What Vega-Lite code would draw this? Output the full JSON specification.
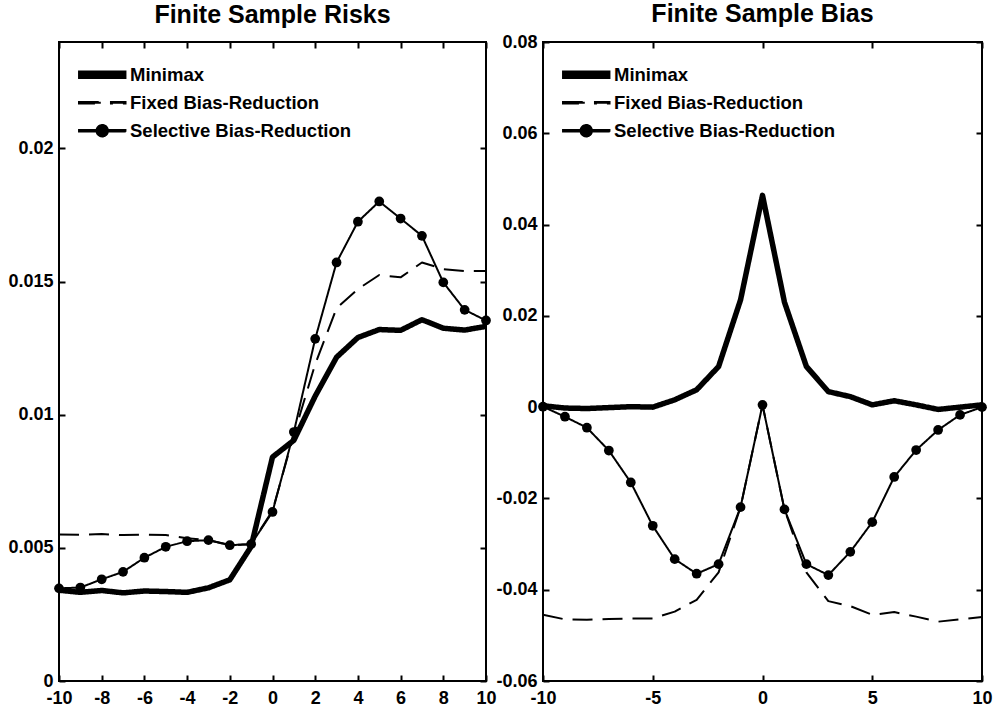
{
  "$schema": "https://vega.github.io/schema/vega-lite/v6.json",
  "padding": {"left": 6, "top": 1, "right": 5, "bottom": 3},
  "background": "white",
  "bounds": "flush",
  "spacing": 57,
  "config": {
    "view": {"stroke": "black", "strokeWidth": 2},
    "font": "Liberation Sans",
    "axis": {
      "domain": false, "grid": false, "title": null,
      "tickSize": -6, "tickWidth": 2, "tickColor": "black",
      "labelFont": "Liberation Sans",
      "labelFontSize": 18, "labelFontWeight": "bold", "labelColor": "black",
      "labelOverlap": false, "labelFlush": false
    },
    "legend": {
      "orient": "none", "legendX": 34, "legendY": 23.5, "title": null,
      "labelFont": "Liberation Sans", "labelFontSize": 18.5, "labelFontWeight": "bold", "labelColor": "black", "labelLimit": 400,
      "symbolSize": 196, "rowPadding": 9, "labelOffset": 18.5,
      "symbolFillColor": "black", "symbolOpacity": 1
    },
    "title": {"font": "Liberation Sans", "fontSize": 25, "fontWeight": "bold", "color": "black", "frame": "group", "baseline": "alphabetic", "anchor": "middle"}
  },
  "resolve": {"scale": {"strokeDash": "independent", "shape": "independent"}, "legend": {"strokeDash": "independent", "shape": "independent"}},
  "datasets": {
    "risk": [
      {"x": -10, "v": 0.00341, "series": "Minimax"},
      {"x": -9, "v": 0.00333, "series": "Minimax"},
      {"x": -8, "v": 0.00340, "series": "Minimax"},
      {"x": -7, "v": 0.00331, "series": "Minimax"},
      {"x": -6, "v": 0.00338, "series": "Minimax"},
      {"x": -5, "v": 0.00336, "series": "Minimax"},
      {"x": -4, "v": 0.00333, "series": "Minimax"},
      {"x": -3, "v": 0.00350, "series": "Minimax"},
      {"x": -2, "v": 0.00380, "series": "Minimax"},
      {"x": -1, "v": 0.00505, "series": "Minimax"},
      {"x": 0, "v": 0.00841, "series": "Minimax"},
      {"x": 1, "v": 0.00904, "series": "Minimax"},
      {"x": 2, "v": 0.01070, "series": "Minimax"},
      {"x": 3, "v": 0.01216, "series": "Minimax"},
      {"x": 4, "v": 0.01290, "series": "Minimax"},
      {"x": 5, "v": 0.01320, "series": "Minimax"},
      {"x": 6, "v": 0.01317, "series": "Minimax"},
      {"x": 7, "v": 0.01357, "series": "Minimax"},
      {"x": 8, "v": 0.01325, "series": "Minimax"},
      {"x": 9, "v": 0.01318, "series": "Minimax"},
      {"x": 10, "v": 0.01332, "series": "Minimax"},
      {"x": -10, "v": 0.00550, "series": "Fixed Bias-Reduction"},
      {"x": -9, "v": 0.00549, "series": "Fixed Bias-Reduction"},
      {"x": -8, "v": 0.00552, "series": "Fixed Bias-Reduction"},
      {"x": -7, "v": 0.00548, "series": "Fixed Bias-Reduction"},
      {"x": -6, "v": 0.00550, "series": "Fixed Bias-Reduction"},
      {"x": -5, "v": 0.00548, "series": "Fixed Bias-Reduction"},
      {"x": -4, "v": 0.00536, "series": "Fixed Bias-Reduction"},
      {"x": -3, "v": 0.00529, "series": "Fixed Bias-Reduction"},
      {"x": -2, "v": 0.00511, "series": "Fixed Bias-Reduction"},
      {"x": -1, "v": 0.00514, "series": "Fixed Bias-Reduction"},
      {"x": 0, "v": 0.00640, "series": "Fixed Bias-Reduction"},
      {"x": 1, "v": 0.00925, "series": "Fixed Bias-Reduction"},
      {"x": 2, "v": 0.01190, "series": "Fixed Bias-Reduction"},
      {"x": 3, "v": 0.01400, "series": "Fixed Bias-Reduction"},
      {"x": 4, "v": 0.01472, "series": "Fixed Bias-Reduction"},
      {"x": 5, "v": 0.01525, "series": "Fixed Bias-Reduction"},
      {"x": 6, "v": 0.01516, "series": "Fixed Bias-Reduction"},
      {"x": 7, "v": 0.01572, "series": "Fixed Bias-Reduction"},
      {"x": 8, "v": 0.01547, "series": "Fixed Bias-Reduction"},
      {"x": 9, "v": 0.01540, "series": "Fixed Bias-Reduction"},
      {"x": 10, "v": 0.01540, "series": "Fixed Bias-Reduction"},
      {"x": -10, "v": 0.00348, "series": "Selective Bias-Reduction"},
      {"x": -9, "v": 0.00351, "series": "Selective Bias-Reduction"},
      {"x": -8, "v": 0.00382, "series": "Selective Bias-Reduction"},
      {"x": -7, "v": 0.00410, "series": "Selective Bias-Reduction"},
      {"x": -6, "v": 0.00463, "series": "Selective Bias-Reduction"},
      {"x": -5, "v": 0.00504, "series": "Selective Bias-Reduction"},
      {"x": -4, "v": 0.00525, "series": "Selective Bias-Reduction"},
      {"x": -3, "v": 0.00529, "series": "Selective Bias-Reduction"},
      {"x": -2, "v": 0.00510, "series": "Selective Bias-Reduction"},
      {"x": -1, "v": 0.00514, "series": "Selective Bias-Reduction"},
      {"x": 0, "v": 0.00635, "series": "Selective Bias-Reduction"},
      {"x": 1, "v": 0.00935, "series": "Selective Bias-Reduction"},
      {"x": 2, "v": 0.01285, "series": "Selective Bias-Reduction"},
      {"x": 3, "v": 0.01572, "series": "Selective Bias-Reduction"},
      {"x": 4, "v": 0.01725, "series": "Selective Bias-Reduction"},
      {"x": 5, "v": 0.01801, "series": "Selective Bias-Reduction"},
      {"x": 6, "v": 0.01737, "series": "Selective Bias-Reduction"},
      {"x": 7, "v": 0.01672, "series": "Selective Bias-Reduction"},
      {"x": 8, "v": 0.01497, "series": "Selective Bias-Reduction"},
      {"x": 9, "v": 0.01394, "series": "Selective Bias-Reduction"},
      {"x": 10, "v": 0.01354, "series": "Selective Bias-Reduction"}
    ],
    "bias": [
      {"x": -10, "v": 0.0003, "series": "Minimax"},
      {"x": -9, "v": -0.0002, "series": "Minimax"},
      {"x": -8, "v": -0.0003, "series": "Minimax"},
      {"x": -7, "v": -0.0001, "series": "Minimax"},
      {"x": -6, "v": 0.0001, "series": "Minimax"},
      {"x": -5, "v": 0.0, "series": "Minimax"},
      {"x": -4, "v": 0.0016, "series": "Minimax"},
      {"x": -3, "v": 0.0038, "series": "Minimax"},
      {"x": -2, "v": 0.0089, "series": "Minimax"},
      {"x": -1, "v": 0.0235, "series": "Minimax"},
      {"x": 0, "v": 0.0464, "series": "Minimax"},
      {"x": 1, "v": 0.0230, "series": "Minimax"},
      {"x": 2, "v": 0.0089, "series": "Minimax"},
      {"x": 3, "v": 0.0034, "series": "Minimax"},
      {"x": 4, "v": 0.0023, "series": "Minimax"},
      {"x": 5, "v": 0.0005, "series": "Minimax"},
      {"x": 6, "v": 0.0014, "series": "Minimax"},
      {"x": 7, "v": 0.0005, "series": "Minimax"},
      {"x": 8, "v": -0.0005, "series": "Minimax"},
      {"x": 9, "v": 0.0, "series": "Minimax"},
      {"x": 10, "v": 0.0005, "series": "Minimax"},
      {"x": -10, "v": -0.0455, "series": "Fixed Bias-Reduction"},
      {"x": -9, "v": -0.0465, "series": "Fixed Bias-Reduction"},
      {"x": -8, "v": -0.0466, "series": "Fixed Bias-Reduction"},
      {"x": -7, "v": -0.0464, "series": "Fixed Bias-Reduction"},
      {"x": -6, "v": -0.0463, "series": "Fixed Bias-Reduction"},
      {"x": -5, "v": -0.0463, "series": "Fixed Bias-Reduction"},
      {"x": -4, "v": -0.0448, "series": "Fixed Bias-Reduction"},
      {"x": -3, "v": -0.0422, "series": "Fixed Bias-Reduction"},
      {"x": -2, "v": -0.0362, "series": "Fixed Bias-Reduction"},
      {"x": -1, "v": -0.0219, "series": "Fixed Bias-Reduction"},
      {"x": 0, "v": 0.0005, "series": "Fixed Bias-Reduction"},
      {"x": 1, "v": -0.0224, "series": "Fixed Bias-Reduction"},
      {"x": 2, "v": -0.0362, "series": "Fixed Bias-Reduction"},
      {"x": 3, "v": -0.0425, "series": "Fixed Bias-Reduction"},
      {"x": 4, "v": -0.0436, "series": "Fixed Bias-Reduction"},
      {"x": 5, "v": -0.0455, "series": "Fixed Bias-Reduction"},
      {"x": 6, "v": -0.0449, "series": "Fixed Bias-Reduction"},
      {"x": 7, "v": -0.0459, "series": "Fixed Bias-Reduction"},
      {"x": 8, "v": -0.0470, "series": "Fixed Bias-Reduction"},
      {"x": 9, "v": -0.0465, "series": "Fixed Bias-Reduction"},
      {"x": 10, "v": -0.0460, "series": "Fixed Bias-Reduction"},
      {"x": -10, "v": 0.0001, "series": "Selective Bias-Reduction"},
      {"x": -9, "v": -0.0021, "series": "Selective Bias-Reduction"},
      {"x": -8, "v": -0.0045, "series": "Selective Bias-Reduction"},
      {"x": -7, "v": -0.0095, "series": "Selective Bias-Reduction"},
      {"x": -6, "v": -0.0165, "series": "Selective Bias-Reduction"},
      {"x": -5, "v": -0.0260, "series": "Selective Bias-Reduction"},
      {"x": -4, "v": -0.0333, "series": "Selective Bias-Reduction"},
      {"x": -3, "v": -0.0365, "series": "Selective Bias-Reduction"},
      {"x": -2, "v": -0.0344, "series": "Selective Bias-Reduction"},
      {"x": -1, "v": -0.0219, "series": "Selective Bias-Reduction"},
      {"x": 0, "v": 0.0005, "series": "Selective Bias-Reduction"},
      {"x": 1, "v": -0.0224, "series": "Selective Bias-Reduction"},
      {"x": 2, "v": -0.0344, "series": "Selective Bias-Reduction"},
      {"x": 3, "v": -0.0368, "series": "Selective Bias-Reduction"},
      {"x": 4, "v": -0.0317, "series": "Selective Bias-Reduction"},
      {"x": 5, "v": -0.0252, "series": "Selective Bias-Reduction"},
      {"x": 6, "v": -0.0153, "series": "Selective Bias-Reduction"},
      {"x": 7, "v": -0.0094, "series": "Selective Bias-Reduction"},
      {"x": 8, "v": -0.0050, "series": "Selective Bias-Reduction"},
      {"x": 9, "v": -0.0017, "series": "Selective Bias-Reduction"},
      {"x": 10, "v": 0.0000, "series": "Selective Bias-Reduction"}
    ]
  },
  "hconcat": [
    {
      "width": 427, "height": 639,
      "title": {"text": "Finite Sample Risks", "offset": 13},
      "data": {"name": "risk"},
      "resolve": {"axis": {"x": "independent", "y": "independent"}},
      "layer": [
        {
          "mark": {"type": "line", "color": "black", "strokeJoin": "round"},
          "encoding": {
            "x": {"field": "x", "type": "quantitative", "scale": {"domain": [-10, 10], "nice": false, "zero": false},
                  "axis": {"orient": "bottom", "values": [-10, -8, -6, -4, -2, 0, 2, 4, 6, 8, 10], "labelExpr": "'' + datum.value", "labelPadding": 14}},
            "y": {"field": "v", "type": "quantitative", "scale": {"domain": [0, 0.024], "nice": false, "zero": false},
                  "axis": {"orient": "left", "values": [0, 0.005, 0.01, 0.015, 0.02], "labelExpr": "'' + datum.value", "labelPadding": 12}},
            "strokeDash": {"field": "series", "type": "nominal",
              "scale": {"domain": ["Minimax", "Fixed Bias-Reduction", "Selective Bias-Reduction"], "range": [[1, 0], [20, 10], [1, 0]]}},
            "strokeWidth": {"condition": {"test": "datum.series === 'Minimax'", "value": 5.5}, "value": 2}
          }
        },
        {
          "transform": [{"filter": "datum.series === 'Selective Bias-Reduction'"}],
          "mark": {"type": "point", "filled": true, "color": "black", "size": 95, "opacity": 1},
          "encoding": {
            "x": {"field": "x", "type": "quantitative", "axis": {"orient": "top", "labels": false, "values": [-10, -8, -6, -4, -2, 0, 2, 4, 6, 8, 10]}},
            "y": {"field": "v", "type": "quantitative", "axis": {"orient": "right", "labels": false, "values": [0, 0.005, 0.01, 0.015, 0.02]}}
          }
        },
        {
          "transform": [{"filter": "datum.x > 100"}],
          "mark": {"type": "point", "filled": false, "fill": "black", "stroke": "black", "strokeWidth": 2, "opacity": 1},
          "encoding": {
            "x": {"field": "x", "type": "quantitative", "axis": null},
            "y": {"field": "v", "type": "quantitative", "axis": null},
            "shape": {"field": "series", "type": "nominal",
              "scale": {"domain": ["Minimax", "Fixed Bias-Reduction", "Selective Bias-Reduction"],
                        "range": ["M-3.35,-0.5L3.35,-0.5L3.35,0.5L-3.35,0.5Z", "M-3.36,-0.15L-0.21,-0.15L-0.21,0.15L-3.36,0.15ZM1.21,-0.15L3.36,-0.15L3.36,0.15L1.21,0.15Z", "M-3.35,-0.15L3.35,-0.15L3.35,0.15L-3.35,0.15ZM-0.85,0A0.85,0.85,0,1,1,0.85,0A0.85,0.85,0,1,1,-0.85,0Z"]}},
            "strokeDash": {"field": "series", "type": "nominal"}
          }
        }
      ]
    },
    {
      "width": 439, "height": 639,
      "title": {"text": "Finite Sample Bias", "offset": 6},
      "data": {"name": "bias"},
      "resolve": {"axis": {"x": "independent", "y": "independent"}},
      "layer": [
        {
          "mark": {"type": "line", "color": "black", "strokeJoin": "round"},
          "encoding": {
            "x": {"field": "x", "type": "quantitative", "scale": {"domain": [-10, 10], "nice": false, "zero": false},
                  "axis": {"orient": "bottom", "values": [-10, -5, 0, 5, 10], "labelExpr": "'' + datum.value", "labelPadding": 14}},
            "y": {"field": "v", "type": "quantitative", "scale": {"domain": [-0.06, 0.08], "nice": false, "zero": false},
                  "axis": {"orient": "left", "values": [-0.06, -0.04, -0.02, 0, 0.02, 0.04, 0.06, 0.08], "labelExpr": "'' + datum.value", "labelPadding": 12}},
            "strokeDash": {"field": "series", "type": "nominal",
              "scale": {"domain": ["Minimax", "Fixed Bias-Reduction", "Selective Bias-Reduction"], "range": [[1, 0], [20, 10], [1, 0]]}},
            "strokeWidth": {"condition": {"test": "datum.series === 'Minimax'", "value": 5.5}, "value": 2}
          }
        },
        {
          "transform": [{"filter": "datum.series === 'Selective Bias-Reduction'"}],
          "mark": {"type": "point", "filled": true, "color": "black", "size": 95, "opacity": 1},
          "encoding": {
            "x": {"field": "x", "type": "quantitative", "axis": {"orient": "top", "labels": false, "values": [-10, -5, 0, 5, 10]}},
            "y": {"field": "v", "type": "quantitative", "axis": {"orient": "right", "labels": false, "values": [-0.06, -0.04, -0.02, 0, 0.02, 0.04, 0.06, 0.08]}}
          }
        },
        {
          "transform": [{"filter": "datum.x > 100"}],
          "mark": {"type": "point", "filled": false, "fill": "black", "stroke": "black", "strokeWidth": 2, "opacity": 1},
          "encoding": {
            "x": {"field": "x", "type": "quantitative", "axis": null},
            "y": {"field": "v", "type": "quantitative", "axis": null},
            "shape": {"field": "series", "type": "nominal",
              "scale": {"domain": ["Minimax", "Fixed Bias-Reduction", "Selective Bias-Reduction"],
                        "range": ["M-3.35,-0.5L3.35,-0.5L3.35,0.5L-3.35,0.5Z", "M-3.36,-0.15L-0.21,-0.15L-0.21,0.15L-3.36,0.15ZM1.21,-0.15L3.36,-0.15L3.36,0.15L1.21,0.15Z", "M-3.35,-0.15L3.35,-0.15L3.35,0.15L-3.35,0.15ZM-0.85,0A0.85,0.85,0,1,1,0.85,0A0.85,0.85,0,1,1,-0.85,0Z"]}},
            "strokeDash": {"field": "series", "type": "nominal"}
          }
        }
      ]
    }
  ]
}
